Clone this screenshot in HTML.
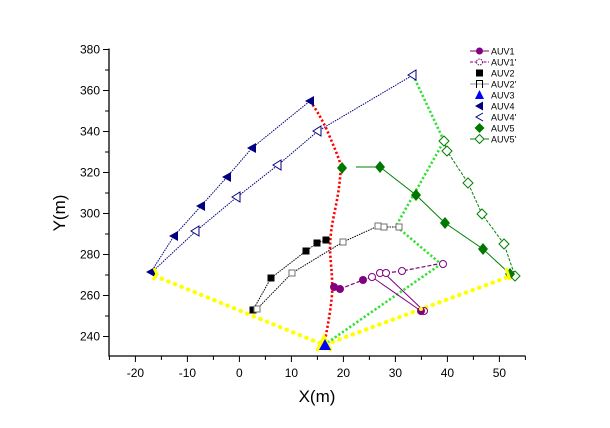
<!DOCTYPE html>
<html><head><meta charset="utf-8"><style>
html,body{margin:0;padding:0;background:#fff;}
svg{display:block;}
text{font-family:"Liberation Sans",Arial,sans-serif;}
</style></head><body>
<svg width="610" height="428" viewBox="0 0 610 428" xmlns="http://www.w3.org/2000/svg">
<rect width="610" height="428" fill="#fff"/>
<!-- axes -->
<g stroke="#000" stroke-width="1.3" fill="none">
<line x1="109" y1="48.5" x2="109" y2="356.5"/>
<line x1="108.5" y1="356" x2="525.5" y2="356"/>
</g>
<g stroke="#000" stroke-width="1">
<line x1="135.4" y1="356" x2="135.4" y2="362"/>
<line x1="187.4" y1="356" x2="187.4" y2="362"/>
<line x1="239.4" y1="356" x2="239.4" y2="362"/>
<line x1="291.4" y1="356" x2="291.4" y2="362"/>
<line x1="343.4" y1="356" x2="343.4" y2="362"/>
<line x1="395.4" y1="356" x2="395.4" y2="362"/>
<line x1="447.4" y1="356" x2="447.4" y2="362"/>
<line x1="499.4" y1="356" x2="499.4" y2="362"/>
<line x1="109.4" y1="356" x2="109.4" y2="360"/>
<line x1="161.4" y1="356" x2="161.4" y2="360"/>
<line x1="213.4" y1="356" x2="213.4" y2="360"/>
<line x1="265.4" y1="356" x2="265.4" y2="360"/>
<line x1="317.4" y1="356" x2="317.4" y2="360"/>
<line x1="369.4" y1="356" x2="369.4" y2="360"/>
<line x1="421.4" y1="356" x2="421.4" y2="360"/>
<line x1="473.4" y1="356" x2="473.4" y2="360"/>
<line x1="525.4" y1="356" x2="525.4" y2="360"/>
<line x1="103" y1="49.5" x2="109" y2="49.5"/>
<line x1="103" y1="90.5" x2="109" y2="90.5"/>
<line x1="103" y1="131.5" x2="109" y2="131.5"/>
<line x1="103" y1="172.5" x2="109" y2="172.5"/>
<line x1="103" y1="213.5" x2="109" y2="213.5"/>
<line x1="103" y1="254.5" x2="109" y2="254.5"/>
<line x1="103" y1="295.5" x2="109" y2="295.5"/>
<line x1="103" y1="336.5" x2="109" y2="336.5"/>
<line x1="105" y1="70" x2="109" y2="70"/>
<line x1="105" y1="111" x2="109" y2="111"/>
<line x1="105" y1="152" x2="109" y2="152"/>
<line x1="105" y1="193" x2="109" y2="193"/>
<line x1="105" y1="234" x2="109" y2="234"/>
<line x1="105" y1="275" x2="109" y2="275"/>
<line x1="105" y1="316" x2="109" y2="316"/>
</g>
<g font-size="12" fill="#000" text-anchor="middle">
<text x="135.4" y="377">-20</text>
<text x="187.4" y="377">-10</text>
<text x="239.4" y="377">0</text>
<text x="291.4" y="377">10</text>
<text x="343.4" y="377">20</text>
<text x="395.4" y="377">30</text>
<text x="447.4" y="377">40</text>
<text x="499.4" y="377">50</text>
</g>
<g font-size="12" fill="#000" text-anchor="end">
<text x="100" y="53.5">380</text>
<text x="100" y="94.5">360</text>
<text x="100" y="135.5">340</text>
<text x="100" y="176.5">320</text>
<text x="100" y="217.5">300</text>
<text x="100" y="258.5">280</text>
<text x="100" y="299.5">260</text>
<text x="100" y="340.5">240</text>
</g>
<text x="317" y="402" font-size="17" text-anchor="middle">X(m)</text>
<text transform="translate(65,213) rotate(-90)" font-size="17" text-anchor="middle">Y(m)</text>

<polyline points="155,276 324,345 508,277" fill="none" stroke="#ffff00" stroke-width="4.2" stroke-linecap="round" stroke-dasharray="0.5 6.6"/>
<path d="M310,101 C318,112 322,120 327,130 C333,145 338,155 341,166 C340,180 339,190 336,205 C333,220 330,232 330,250 C331,268 333,280 332,295 C330,315 327,330 324,345" fill="none" stroke="#ff0000" stroke-width="2.6" stroke-dasharray="2.2 2.2"/>
<polyline points="413,75 444,141 396,226 441,264 324,345" fill="none" stroke="#33e033" stroke-width="2.6" stroke-dasharray="2.2 2.2"/>

<polyline points="151,272 174,236 201,206 227,177 252,148 310,101" fill="none" stroke="#000080" stroke-width="1" stroke-dasharray="1.5 1"/>
<polyline points="152,272 196,231 237,197 278,165 318,131 413,75" fill="none" stroke="#000080" stroke-width="1" stroke-dasharray="1.5 1"/>
<polyline points="253,310 271,278 306,251 317,243 326,240" fill="none" stroke="#000" stroke-width="1" stroke-dasharray="1.5 1"/>
<polyline points="257,309 292,273 343,242 378,226 384,227 399,227" fill="none" stroke="#000" stroke-width="1" stroke-dasharray="1.5 1"/>
<polyline points="356,167 380,167 416,195 445,223 483,249 510,274" fill="none" stroke="#008000" stroke-width="1"/>
<polyline points="444,141 447,151 468,183 482,214 504,244 515,276" fill="none" stroke="#008000" stroke-width="1" stroke-dasharray="3 1.5"/>
<polyline points="334,287 340,289 363,280 372,277" fill="none" stroke="#800080" stroke-width="1.2" stroke-dasharray="4 2"/>
<line x1="372" y1="277" x2="421" y2="311" stroke="#800080" stroke-width="1"/>
<line x1="384" y1="273" x2="424" y2="311" stroke="#800080" stroke-width="1"/>
<polyline points="386,273 402,271 443,263" fill="none" stroke="#800080" stroke-width="1.2" stroke-dasharray="4 2"/>

<g fill="#000080">
<polygon points="305,101 314,96 314,106"/>
<polygon points="247,148 256,143 256,153"/>
<polygon points="222,177 231,172 231,182"/>
<polygon points="196,206 205,201 205,211"/>
<polygon points="169,236 178,231 178,241"/>
<polygon points="146,272 155,267 155,277"/>
</g>
<g fill="#fff" stroke="#000080" stroke-width="1">
<polygon points="408,75 416,70 416,80"/>
<polygon points="313,131 321,126 321,136"/>
<polygon points="273,165 281,160 281,170"/>
<polygon points="232,197 240,192 240,202"/>
<polygon points="191,231 199,226 199,236"/>
</g>
<g fill="#000">
<rect x="249.5" y="306.5" width="7" height="7"/>
<rect x="267.5" y="274.5" width="7" height="7"/>
<rect x="302.5" y="247.5" width="7" height="7"/>
<rect x="313.5" y="239.5" width="7" height="7"/>
<rect x="322.5" y="236.5" width="7" height="7"/>
</g>
<g fill="#fff" stroke="#707070" stroke-width="1">
<rect x="254" y="306" width="6" height="6"/>
<rect x="289" y="270" width="6" height="6"/>
<rect x="340" y="239" width="6" height="6"/>
<rect x="375" y="223" width="6" height="6"/>
<rect x="381" y="224" width="6" height="6"/>
<rect x="396" y="224" width="6" height="6"/>
</g>
<g fill="#fff" stroke="#008000" stroke-width="1">
<polygon points="444,136 449,141 444,146 439,141"/>
<polygon points="447,146 452,151 447,156 442,151"/>
<polygon points="468,178 473,183 468,188 463,183"/>
<polygon points="482,209 487,214 482,219 477,214"/>
<polygon points="504,239 509,244 504,249 499,244"/>
<polygon points="515,271 520,276 515,281 510,276"/>
</g>
<g fill="#007800">
<polygon points="342,162 347,168 342,174 337,168"/>
<polygon points="380,161 385,167 380,173 375,167"/>
<polygon points="416,189 421,195 416,201 411,195"/>
<polygon points="445,217 450,223 445,229 440,223"/>
<polygon points="483,243 488,249 483,255 478,249"/>
<polygon points="510,268 515,274 510,280 505,274"/>
</g>
<g fill="#fff" stroke="#800080" stroke-width="1">
<circle cx="372" cy="277" r="3.5"/>
<circle cx="380" cy="273" r="3.5"/>
<circle cx="386" cy="273" r="3.5"/>
<circle cx="402" cy="271" r="3.5"/>
<circle cx="443" cy="264" r="3.5"/>
<circle cx="424" cy="311" r="3.5"/>
</g>
<g fill="#800080">
<circle cx="334" cy="287" r="4"/>
<circle cx="340" cy="289" r="4"/>
<circle cx="363" cy="280" r="4"/>
<circle cx="421" cy="311" r="4"/>
</g>
<path d="M317,351 L324,337 L331,351" fill="none" stroke="#ffff00" stroke-width="3.5"/>
<path d="M154,268 L157,274 L153,280" fill="none" stroke="#ffff00" stroke-width="3"/>
<line x1="506" y1="268" x2="510" y2="280" stroke="#ffff00" stroke-width="3"/>
<circle cx="421" cy="309" r="2" fill="#ffff00"/>
<polygon points="325,339 319,350 331,350" fill="#0000ff"/>

<g font-size="9" fill="#000">
<line x1="470" y1="51" x2="489" y2="51" stroke="#800080" stroke-width="1"/>
<circle cx="479.5" cy="51" r="3.5" fill="#800080"/>
<text x="491" y="54.5">AUV1</text>
<line x1="470" y1="62" x2="489" y2="62" stroke="#800080" stroke-width="1" stroke-dasharray="3 1.5"/>
<circle cx="479.5" cy="62" r="3" fill="#fff" stroke="#800080" stroke-width="1" stroke-dasharray="1.5 1"/>
<text x="491" y="65.5">AUV1'</text>
<rect x="476" y="69.5" width="7" height="7" fill="#000"/>
<text x="491" y="76.5">AUV2</text>
<line x1="470" y1="84" x2="489" y2="84" stroke="#909090" stroke-width="1"/>
<path d="M476.5,88 V80.5 H482.5 V88" fill="none" stroke="#000" stroke-width="1"/>
<text x="491" y="87.5">AUV2'</text>
<polygon points="479.5,90 475,99 484,99" fill="#0000ff"/>
<text x="491" y="98.5">AUV3</text>
<polygon points="475,106 483,101.5 483,110.5" fill="#000080"/>
<text x="491" y="109.5">AUV4</text>
<path d="M483,113 L476,117 L483,121" fill="none" stroke="#000080" stroke-width="1"/>
<text x="491" y="120.5">AUV4'</text>
<polygon points="479.5,123 484.5,128 479.5,133 474.5,128" fill="#007800"/>
<text x="491" y="131.5">AUV5</text>
<line x1="470" y1="139" x2="489" y2="139" stroke="#008000" stroke-width="1"/>
<polygon points="479.5,134.5 484,139 479.5,143.5 475,139" fill="#fff" stroke="#008000" stroke-width="1"/>
<text x="491" y="142.5">AUV5'</text>
</g>
</svg>
</body></html>
